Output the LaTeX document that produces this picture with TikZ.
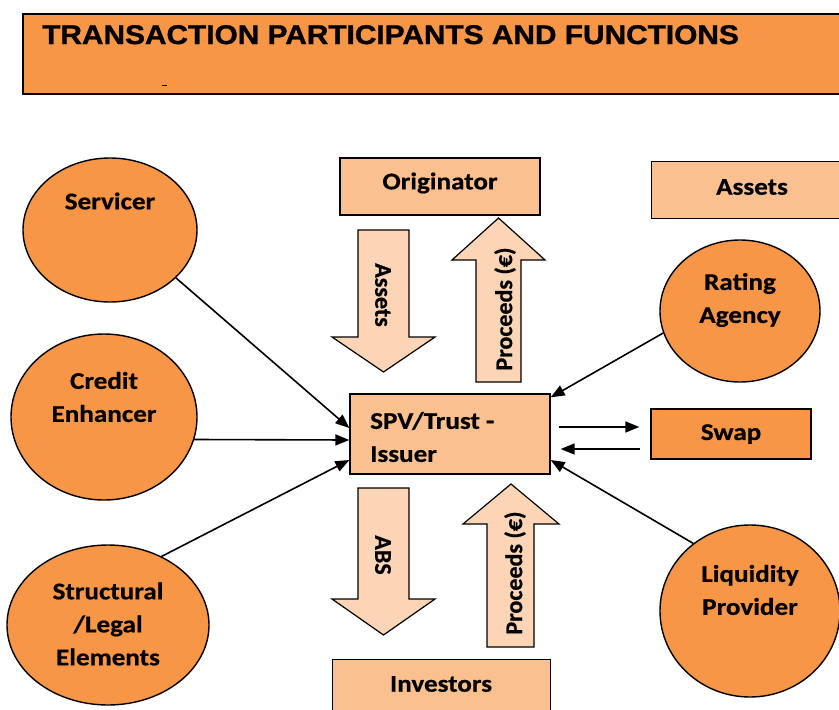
\documentclass[tikz,border=0pt]{standalone}
\usepackage{fontspec}
\setmainfont{Carlito}[FakeStretch=1.13, BoldFeatures={FakeBold=0.6}]
\newfontfamily\rotfont{Carlito}[BoldFeatures={FakeBold=0.6}]
\newfontfamily\titlefont{Liberation Sans}[FakeStretch=1.105, BoldFeatures={FakeBold=1.2}]
\usetikzlibrary{arrows.meta,shapes.geometric,calc}
\definecolor{dorange}{HTML}{F79646}
\definecolor{lorange}{HTML}{FAC090}
\definecolor{peach}{HTML}{FBD5B5}
\tikzset{
  lbl/.style={font=\bfseries\fontsize{24}{33}\selectfont, align=center, inner sep=0pt},
  rlbl/.style={font=\rotfont\bfseries\fontsize{24}{33}\selectfont, inner sep=0pt},
  part/.style={ellipse, draw=black, line width=1.4pt, fill=dorange, inner sep=0pt},
  boxl/.style={draw=black, line width=1.3pt, fill=lorange, inner sep=0pt},
  boxd/.style={draw=black, line width=1.3pt, fill=dorange, inner sep=0pt},
  bigarrow/.style={draw=black, line width=1.2pt, fill=peach},
  conn/.style={line width=1.6pt, -{Triangle[length=14pt,width=11pt]}},
}
\begin{document}
\begin{tikzpicture}[x=1pt,y=1pt]
\useasboundingbox (0,0) rectangle (839,-710);
% title
\node[draw=black, line width=1.5pt, fill=dorange, minimum width=830pt, minimum height=80pt, anchor=north west, inner sep=0pt] (title) at (22,-13) {};
\node[anchor=base west, inner sep=0pt, font=\titlefont\bfseries\fontsize{27}{30}\selectfont] (titletext) at (42,-44) {TRANSACTION PARTICIPANTS AND FUNCTIONS};
\draw[line width=0.8pt] (162,-85) -- (167,-85);

% boxes
\node[boxl, minimum width=200pt, minimum height=57pt] (orig) at (440,-186.5) {};
\node[lbl] (origt) at (440,-183) {Originator};
\node[boxl, minimum width=200pt, minimum height=57pt, anchor=north west] (assetsbox) at (651,-161) {};
\node[lbl] (assetst) at (752,-187) {Assets};
\node[boxl, minimum width=200pt, minimum height=80pt] (spv) at (450,-434) {};
\node[lbl, align=left, anchor=west] (spvt) at (370,-437) {SPV/Trust -\\Issuer};
\node[boxd, minimum width=160pt, minimum height=50pt] (swap) at (731,-434) {};
\node[lbl] (swapt) at (731,-434) {Swap};
\node[boxl, minimum width=218pt, minimum height=60pt, anchor=north west] (inv) at (332,-659) {};
\node[lbl] (invt) at (441,-684) {Investors};

% big arrows
\draw[bigarrow] (358,-230) -- (409,-230) -- (409,-337) -- (435,-337) -- (383.5,-372) -- (332,-337) -- (358,-337) -- cycle;
\node[rlbl, rotate=-90] (assetsarrowt) at (383,-295) {Assets};
\draw[bigarrow] (476,-382) -- (476,-260) -- (452,-260) -- (498.5,-218) -- (545,-260) -- (521,-260) -- (521,-382) -- cycle;
\node[rlbl, rotate=90] (proc1) at (505,-309) {Proceeds (€)};
\draw[bigarrow] (358,-488) -- (409,-488) -- (409,-599) -- (435,-599) -- (383.5,-635) -- (332,-599) -- (358,-599) -- cycle;
\node[rlbl, rotate=-90] (abst) at (383,-555) {ABS};
\draw[bigarrow] (487,-647) -- (487,-524) -- (463,-524) -- (511,-484) -- (559,-524) -- (534,-524) -- (534,-647) -- cycle;
\node[rlbl, rotate=90] (proc2) at (515,-573) {Proceeds (€)};

% participants
\node[part, minimum width=174pt, minimum height=144pt] (serv) at (110,-230) {};
\node[lbl] (servt) at (110,-201) {Servicer};
\node[part, minimum width=186pt, minimum height=166pt] (cred) at (104,-417) {};
\node[lbl] (credt) at (104,-397) {Credit\\Enhancer};
\node[part, minimum width=202pt, minimum height=160pt] (struct) at (108,-625) {};
\node[lbl] (structt) at (108,-624) {Structural\\/Legal\\Elements};
\node[part, minimum width=160pt, minimum height=142pt] (rate) at (740,-311) {};
\node[lbl] (ratet) at (740,-300) {Rating\\Agency};
\node[part, minimum width=180pt, minimum height=172pt] (liq) at (750,-611) {};
\node[lbl] (liqt) at (750,-590) {Liquidity\\Provider};

% connectors
\draw[conn] (serv.-36) -- ([yshift=6pt]spv.west);
\draw[conn] (cred.-14.5) -- ([yshift=-6pt]spv.west);
\draw[conn] (struct.52) -- ([yshift=-26pt]spv.west);
\draw[conn] (rate.196) -- ([yshift=-4pt]spv.north east);
\draw[conn] (liq.130) -- ([yshift=-26pt]spv.east);
\draw[conn] ([xshift=8pt,yshift=7pt]spv.east) -- ([xshift=-11pt,yshift=7pt]swap.west);
\draw[conn] ([xshift=-10pt,yshift=-15pt]swap.west) -- ([xshift=10pt,yshift=-15pt]spv.east);
\end{tikzpicture}
\end{document}
